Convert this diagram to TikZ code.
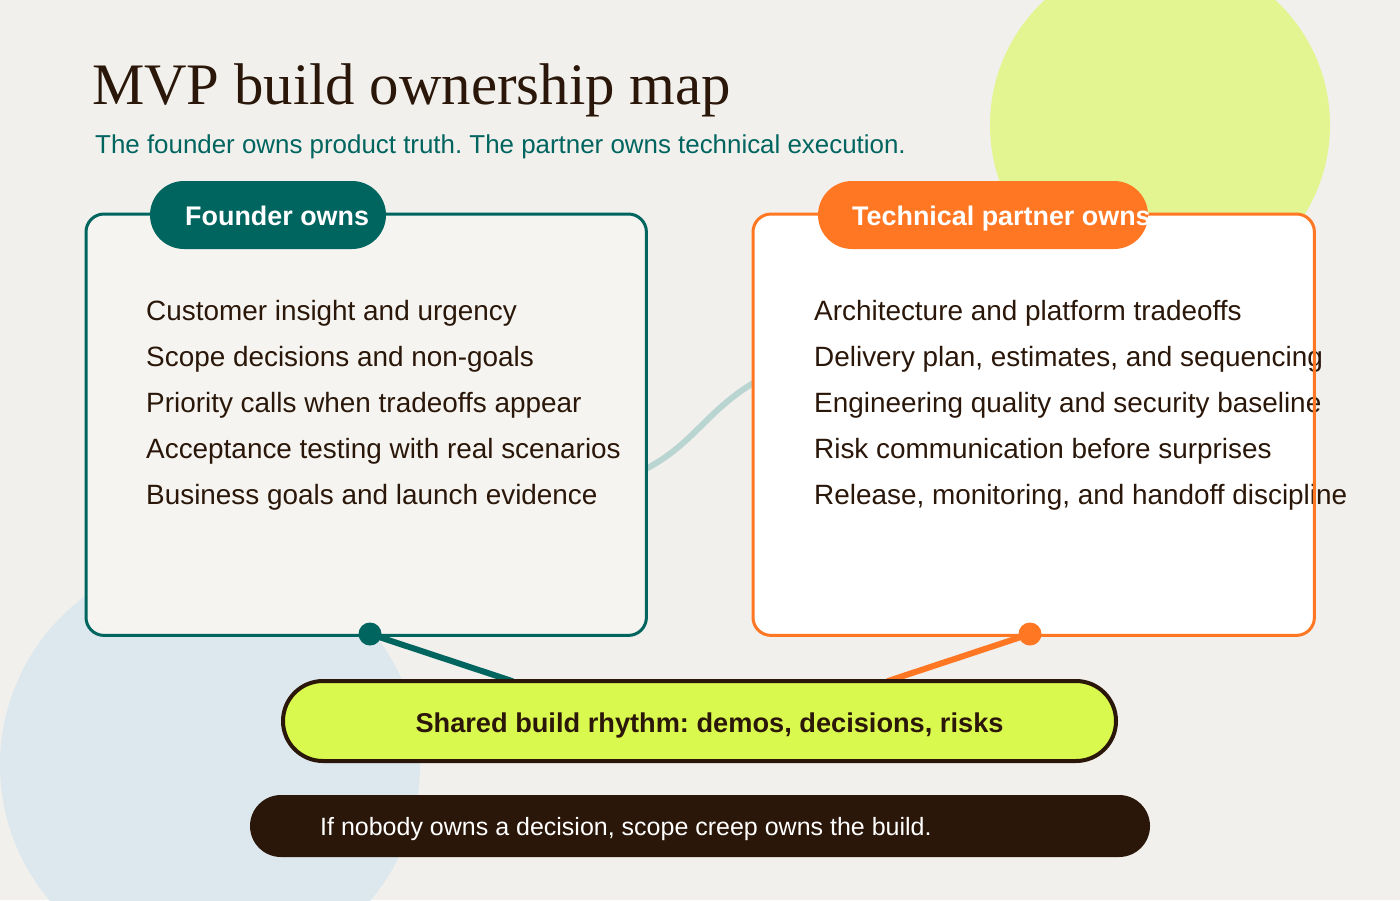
\documentclass[tikz,border=0pt]{standalone}
\usepackage{fontspec}
\setmainfont{Liberation Serif}
\newfontfamily\sansf{Liberation Sans}
\definecolor{bgc}{HTML}{F1F0EC}
\definecolor{boxfill}{HTML}{F5F4F0}
\definecolor{tealc}{HTML}{00645F}
\definecolor{orangec}{HTML}{FF7722}
\definecolor{darkc}{HTML}{2A1709}
\definecolor{limec}{HTML}{DAF94E}
\definecolor{limecirc}{HTML}{E3F590}
\definecolor{bluecirc}{HTML}{DDE8EE}
\definecolor{curvec}{HTML}{B9D5D1}
\tikzset{
  ownbox/.style={anchor=north west, minimum width=#1, minimum height=421pt, inner sep=0pt, rounded corners=18pt},
  pillbox/.style={minimum height=68pt, rounded corners=34pt, inner sep=0pt},
  pilltext/.style={anchor=base west, inner sep=0pt, text=white, font=\sansf\bfseries\fontsize{26.9}{30}\selectfont},
  itemtext/.style={anchor=base west, inner sep=0pt, text=darkc, font=\sansf\fontsize{27.9}{32}\selectfont},
  tie/.style={line width=6pt, line cap=round},
}
\begin{document}
\frenchspacing
\begin{tikzpicture}[x=1pt,y=-1pt]
\useasboundingbox (0,0) rectangle (1400,900);
\clip (0,0) rectangle (1400,900);
\fill[bgc] (0,0) rectangle (1400,900);
\fill[limecirc] (1160,125) circle (170);
\fill[bluecirc] (210,765) circle (210);

% title
\node[anchor=base west, inner sep=0pt, text=darkc, font=\fontsize{58.8}{62}\selectfont] (title) at (92,104) {MVP build ownership map};
\node[anchor=base west, inner sep=0pt, text=tealc, font=\sansf\fontsize{25.9}{30}\selectfont] (subtitle) at (95,153) {The founder owns product truth. The partner owns technical execution.};

% connector between boxes
\coordinate (c1) at (640,472);
\coordinate (c2) at (760,379);
\draw[curvec, line width=6pt] (c1) .. controls (695,445) and (705,410) .. (c2);

% boxes (fill)
\node[ownbox=560pt, fill=boxfill] (founder) at (86,214) {};
\node[ownbox=561pt, fill=white] (partner) at (753,214) {};

% list items
\node[itemtext] (f1) at (146,320) {Customer insight and urgency};
\node[itemtext] (f2) at (146,366) {Scope decisions and non-goals};
\node[itemtext] (f3) at (146,412) {Priority calls when tradeoffs appear};
\node[itemtext] (f4) at (146,458) {Acceptance testing with real scenarios};
\node[itemtext] (f5) at (146,504) {Business goals and launch evidence};
\node[itemtext] (p1) at (814,320) {Architecture and platform tradeoffs};
\node[itemtext] (p2) at (814,366) {Delivery plan, estimates, and sequencing};
\node[itemtext] (p3) at (814,412) {Engineering quality and security baseline};
\node[itemtext] (p4) at (814,458) {Risk communication before surprises};
\node[itemtext] (p5) at (814,504) {Release, monitoring, and handoff discipline};

% box borders
\draw[tealc, line width=3pt, rounded corners=18pt] (founder.north west) rectangle (founder.south east);
\draw[orangec, line width=3pt, rounded corners=18pt] (partner.north west) rectangle (partner.south east);

% pills
\node[pillbox, fill=tealc, minimum width=236pt] (fpill) at (268,215) {};
\node[pilltext] (fpilltext) at (185,225) {Founder owns};
\node[pillbox, fill=orangec, minimum width=330pt] (ppill) at (983,215) {};
\node[pilltext] (ppilltext) at (852,225) {Technical partner owns};

% ties
\coordinate (fdot) at (370,634);
\coordinate (pdot) at (1030,634);
\coordinate (sl) at (512,681);
\coordinate (sr) at (888,681);
\draw[tealc, tie] (fdot) -- (sl);
\draw[orangec, tie] (pdot) -- (sr);
\fill[tealc] (fdot) circle (11.5);
\fill[orangec] (pdot) circle (11.5);

% shared pill
\node[draw=darkc, line width=4pt, fill=limec, minimum width=833pt, minimum height=80pt, rounded corners=40pt, inner sep=0pt] (shared) at (699.5,721) {};
\node[inner sep=0pt, anchor=base, text=darkc, font=\sansf\bfseries\fontsize{27.2}{30}\selectfont] (sharedtext) at (709.5,732) {Shared build rhythm: demos, decisions, risks};

% footer pill
\node[fill=darkc, minimum width=900pt, minimum height=62pt, rounded corners=31pt, inner sep=0pt] (footer) at (700,826) {};
\node[anchor=base west, inner sep=0pt, text=white, font=\sansf\fontsize{25}{28}\selectfont] (footertext) at (320,835) {If nobody owns a decision, scope creep owns the build.};
\end{tikzpicture}
\end{document}
